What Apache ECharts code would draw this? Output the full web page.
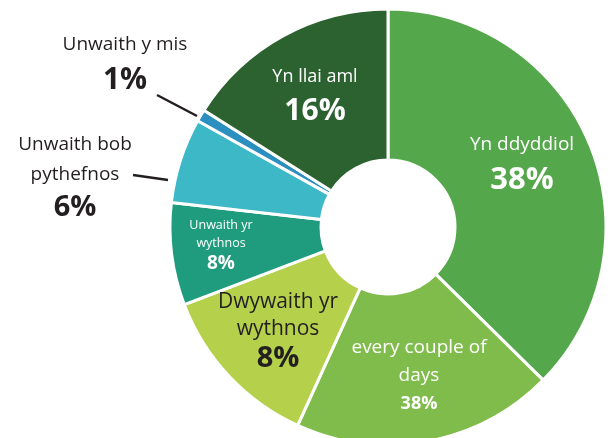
<!DOCTYPE html>
<html>
<head>
<meta charset="utf-8">
<script src="https://cdn.jsdelivr.net/npm/echarts@6/dist/echarts.min.js"></script>
<style>
    html, body { margin: 0; padding: 0; background: #fff; }
    #chart { width: 615px; height: 438px; }
</style>
</head>
<body>
<div id="chart"></div>
<script>
//************************* 数据 ******************************//
var categories = ['Yn ddyddiol', 'every couple of days', 'Dwywaith yr wythnos', 'Unwaith yr wythnos', 'Unwaith bob pythefnos', 'Unwaith y mis', 'Yn llai aml'];
var nameLines  = ['Yn ddyddiol', 'every couple of\ndays', 'Dwywaith yr\nwythnos', 'Unwaith yr\nwythnos', 'Unwaith bob\npythefnos', 'Unwaith y mis', 'Yn llai aml'];
// 扇区大小（从图上量角度）
var values     = [37.4, 19.4, 12.4, 7.6, 6.3, 0.9, 16.0];
// 图上印的百分比文字
var pctLabels  = ['38%', '38%', '8%', '8%', '6%', '1%', '16%'];

//************************* 样式 ******************************//
var colors = ['#55a74c', '#80bc4b', '#b5d14c', '#1f9c7d', '#3db8c6', '#2b8fc0', '#2c6130'];
var dark = '#231f20';
// 每个标签: 名称字号/行高, 百分比字号/行高, 颜色, 是否外部
var labelStyle = [
    {ns: 19, nl: 34, ps: 31, pl: 36, c: '#fff', out: false},
    {ns: 19, nl: 28, ps: 18, pl: 28, c: '#fff', out: false},
    {ns: 21, nl: 27, ps: 29, pl: 32, c: dark,   out: false},
    {ns: 12.5, nl: 18, ps: 19, pl: 24, c: '#fff', out: false},
    {ns: 19, nl: 30, ps: 29, pl: 36, c: dark,   out: true},
    {ns: 19, nl: 34, ps: 30, pl: 36, c: dark,   out: true},
    {ns: 18, nl: 32, ps: 30, pl: 36, c: '#fff', out: false}
];
// 标签块中心位置
var labelPos = [[522, 163], [419, 376], [278, 332], [221, 246], [75, 178], [125, 63], [315, 95]];
// 外部标签引线（扇区端 -> 文字端）
var leaderLines = {
    4: [[168, 180], [133, 175]],
    5: [[197, 116], [157, 95]]
};

function buildData(){
    var arr = [];
    for(var i=0; i<categories.length; i++){
        var s = labelStyle[i];
        arr.push({
            name: categories[i],
            value: values[i],
            itemStyle: {color: colors[i]},
            label: {
                position: s.out ? 'outside' : 'inside',
                formatter: '{n|' + nameLines[i].split('\n').join('}\n{n|') + '}\n{p|' + pctLabels[i] + '}',
                rich: {
                    n: {fontSize: s.ns, lineHeight: s.nl, color: s.c, fontFamily: 'Open Sans', align: 'center'},
                    p: {fontSize: s.ps, lineHeight: s.pl, color: s.c, fontWeight: 'bold', fontFamily: 'Open Sans', align: 'center'}
                }
            },
            labelLine: {show: s.out}
        });
    }
    return arr;
}

var myChart = echarts.init(document.getElementById('chart'));
var option = {
    animation: false,
    series: [{
        type: 'pie',
        center: [388, 227],
        radius: [67, 218],
        startAngle: 90,
        clockwise: true,
        avoidLabelOverlap: false,
        itemStyle: {borderColor: '#fff', borderWidth: 3},
        emphasis: {disabled: true},
        label: {show: true},
        labelLine: {
            show: false,
            lineStyle: {color: dark, width: 2.5}
        },
        labelLayout: function(params){
            var i = params.dataIndex;
            var p = labelPos[i];
            var res = {x: p[0], y: p[1], align: 'center', verticalAlign: 'middle'};
            if(leaderLines[i]){
                var l = leaderLines[i];
                res.labelLinePoints = [l[0], l[1], l[1]];
            }
            return res;
        },
        data: buildData()
    }]
};
myChart.setOption(option);
</script>
</body>
</html>
